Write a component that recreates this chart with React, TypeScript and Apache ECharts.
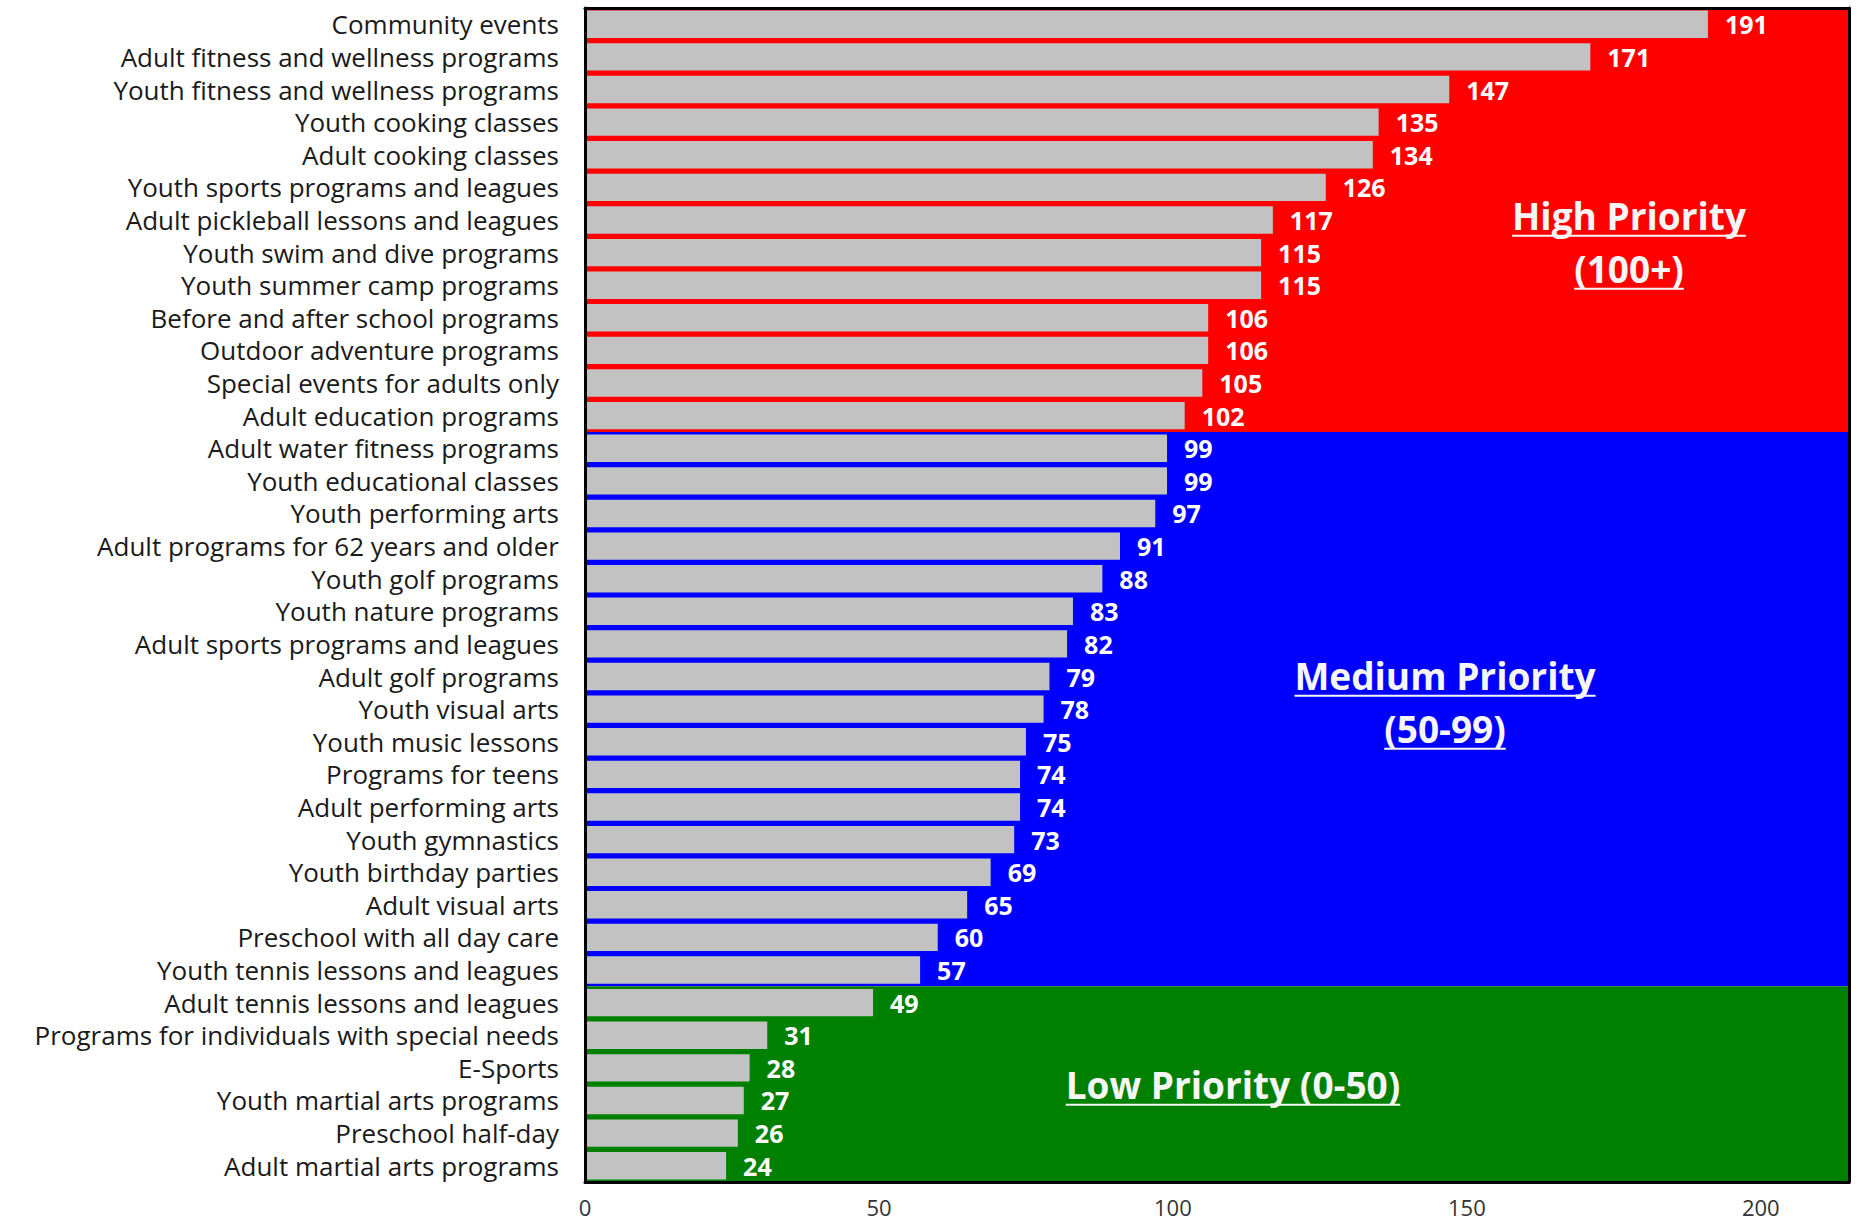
import React, { useEffect, useRef } from "react";
import * as echarts from "echarts";

const categories: string[] = [
  "Community events",
  "Adult fitness and wellness programs",
  "Youth fitness and wellness programs",
  "Youth cooking classes",
  "Adult cooking classes",
  "Youth sports programs and leagues",
  "Adult pickleball lessons and leagues",
  "Youth swim and dive programs",
  "Youth summer camp programs",
  "Before and after school programs",
  "Outdoor adventure programs",
  "Special events for adults only",
  "Adult education programs",
  "Adult water fitness programs",
  "Youth educational classes",
  "Youth performing arts",
  "Adult programs for 62 years and older",
  "Youth golf programs",
  "Youth nature programs",
  "Adult sports programs and leagues",
  "Adult golf programs",
  "Youth visual arts",
  "Youth music lessons",
  "Programs for teens",
  "Adult performing arts",
  "Youth gymnastics",
  "Youth birthday parties",
  "Adult visual arts",
  "Preschool with all day care",
  "Youth tennis lessons and leagues",
  "Adult tennis lessons and leagues",
  "Programs for individuals with special needs",
  "E-Sports",
  "Youth martial arts programs",
  "Preschool half-day",
  "Adult martial arts programs",
];

const values: number[] = [
  191, 171, 147, 135, 134, 126, 117, 115, 115, 106, 106, 105, 102,
  99, 99, 97, 91, 88, 83, 82, 79, 78, 75, 74, 74, 73, 69, 65, 60, 57,
  49, 31, 28, 27, 26, 24,
];

const xTicks: number[] = [0, 50, 100, 150, 200];
const xMax = 215;

// priority bands: threshold (minimum value) and colour
const bandNames: string[] = ["High Priority", "Medium Priority", "Low Priority"];
const bandSubtitles: string[] = ["(100+)", "(50-99)", "(0-50)"];
const bandMins: number[] = [100, 50, 0];
const bandColors: string[] = ["#ff0000", "#0000ff", "#008000"];

const FONT = "'Open Sans', 'Noto Sans', sans-serif";

function measure(text: string, size: number, weight: string): number {
  const c = document.createElement("canvas").getContext("2d");
  if (!c) return text.length * size * 0.55;
  c.font = `${weight} ${size}px 'Open Sans'`;
  return c.measureText(text).width;
}

function underlined(text: string, cx: number, cy: number, size: number) {
  const w = measure(text, size, "bold");
  return {
    type: "group",
    children: [
      {
        type: "text",
        x: cx,
        y: cy,
        z: 20,
        style: {
          text,
          fill: "#f6f6f6",
          font: `bold ${size}px ${FONT}`,
          align: "center",
          verticalAlign: "middle",
        },
      },
      {
        type: "line",
        z: 20,
        shape: { x1: cx - w / 2, y1: cy + size * 0.56, x2: cx + w / 2, y2: cy + size * 0.56 },
        style: { stroke: "#f6f6f6", lineWidth: 2 },
      },
    ],
  };
}

export default function App() {
  const ref = useRef<HTMLDivElement>(null);

  useEffect(() => {
    if (!ref.current) return;
    const chart = echarts.init(ref.current, undefined, { renderer: "svg" });

    // row boundaries of bands derived from data
    const bounds: number[] = bandMins.map((m) => values.filter((v) => v >= m).length);
    const starts: number[] = [0, bounds[0], bounds[1]];
    const markData = bandColors.map((c, i) => [
      { yAxis: starts[i], itemStyle: { color: c, opacity: 1 } },
      { yAxis: bounds[i] },
    ]);

    const option: any = {
      animation: false,
      backgroundColor: "#ffffff",
      grid: { left: 585, right: 13, top: 8, bottom: 46, containLabel: false },
      xAxis: [
        {
          type: "value",
          min: 0,
          max: xMax,
          interval: 50,
          position: "bottom",
          z: 10,
          axisLine: { show: true, onZero: false, lineStyle: { color: "#000", width: 3 } },
          axisTick: { show: false },
          splitLine: { show: false },
          axisLabel: {
            showMaxLabel: false,
            margin: 14,
            color: "#333",
            fontFamily: FONT,
            fontSize: 22,
            formatter: (v: number) => (xTicks.includes(v) ? String(v) : ""),
          },
        },
        {
          type: "value",
          min: 0,
          max: xMax,
          position: "top",
          z: 10,
          axisLine: { show: true, onZero: false, lineStyle: { color: "#000", width: 3 } },
          axisTick: { show: false },
          axisLabel: { show: false },
          splitLine: { show: false },
        },
      ],
      yAxis: [
        {
          type: "category",
          data: categories,
          inverse: true,
          position: "left",
          z: 10,
          axisLine: { show: true, onZero: false, lineStyle: { color: "#000", width: 3 } },
          axisTick: { show: false },
          axisLabel: {
            margin: 26,
            color: "#1a1a1a",
            fontFamily: FONT,
            fontSize: 26,
            interval: 0,
          },
        },
        {
          type: "value",
          min: 0,
          max: categories.length,
          inverse: true,
          position: "right",
          z: 10,
          axisLine: { show: true, onZero: false, lineStyle: { color: "#000", width: 3 } },
          axisTick: { show: false },
          axisLabel: { show: false },
          splitLine: { show: false },
        },
      ],
      series: [
        {
          type: "line",
          xAxisIndex: 0,
          yAxisIndex: 1,
          data: [],
          z: 1,
          silent: true,
          markArea: { silent: true, data: markData },
        },
        {
          type: "bar",
          xAxisIndex: 0,
          yAxisIndex: 0,
          data: values,
          z: 3,
          barCategoryGap: "16%",
          itemStyle: { color: "#c2c2c2" },
          label: {
            show: true,
            position: "right",
            distance: 17,
            color: "#ffffff",
            fontWeight: "bold",
            fontFamily: FONT,
            fontSize: 25,
          },
        },
      ],
      graphic: [
        underlined(bandNames[0], 1629, 215, 37),
        underlined(bandSubtitles[0], 1629, 268, 37),
        underlined(bandNames[1], 1445, 675, 37),
        underlined(bandSubtitles[1], 1445, 728, 37),
        underlined(`${bandNames[2]} ${bandSubtitles[2]}`, 1233, 1084, 37),
      ],
    };

    chart.setOption(option);
    return () => chart.dispose();
  }, []);

  return (
    <div
      ref={ref}
      style={{ position: "fixed", left: 0, top: 0, width: 1862, height: 1228 }}
    />
  );
}
